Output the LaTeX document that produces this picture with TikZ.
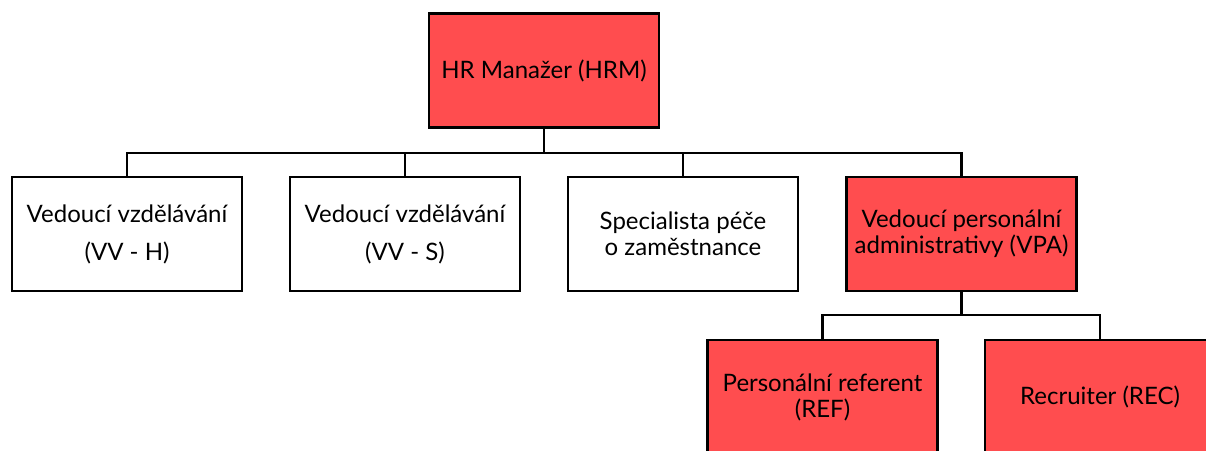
\documentclass[tikz,border=0pt]{standalone}
\usepackage{fontspec}
\setmainfont{Lato}
\definecolor{boxred}{RGB}{255,77,79}
\tikzset{
  x=1pt, y=-1pt,
  unit/.style={draw=black, line width=2.6pt, minimum width=230pt, minimum height=114pt,
    align=center, inner sep=0pt, font=\fontsize{24}{26}\selectfont, text=black},
  redunit/.style={unit, fill=boxred},
  whiteunit/.style={unit, fill=white},
  link/.style={draw=black, line width=2.6pt}
}
\begin{document}
\begin{tikzpicture}
\useasboundingbox (0,0) rectangle (1206,450);
\clip (0,0) rectangle (1206,450);
% top level
\node[redunit] (hrm) at (544,70.5) {HR Manažer (HRM)};
% second level
\node[whiteunit] (vvh) at (127,234) {Vedoucí vzdělávání\\[12pt](VV - H)};
\node[whiteunit] (vvs) at (405,234) {Vedoucí vzdělávání\\[12pt](VV - S)};
\node[whiteunit] (spz) at (683,234) {Specialista péče\\o zaměstnance};
\node[redunit] (vpa) at (961.5,234) {Vedoucí personální\\administrativy (VPA)};
% third level
\node[redunit] (ref) at (822.5,397) {Personální referent\\(REF)};
\node[redunit] (rec) at (1100,397) {Recruiter (REC)};
% connectors
\coordinate (bus1) at (544,153);
\coordinate (bus2) at (961.5,315);
\draw[link] (hrm.south) -- (bus1);
\draw[link] (vvh.north) |- (bus1) -| (vpa.north);
\draw[link] (vvs.north) -- (vvs.north |- bus1);
\draw[link] (spz.north) -- (spz.north |- bus1);
\draw[link] (vpa.south) -- (bus2);
\draw[link] (ref.north) |- (bus2) -| (rec.north);
\end{tikzpicture}
\end{document}
